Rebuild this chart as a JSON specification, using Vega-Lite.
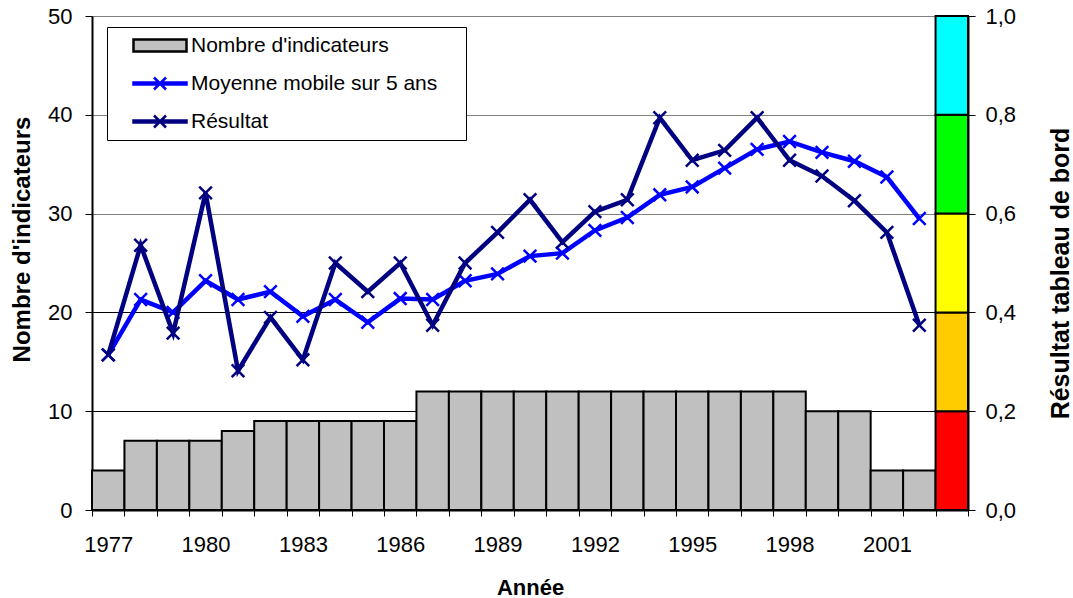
{
  "$schema": "https://vega.github.io/schema/vega-lite/v6.json",
  "width": 876,
  "height": 494,
  "autosize": "none",
  "padding": {"left": 92, "top": 16, "right": 105, "bottom": 88},
  "background": "white",
  "config": {
    "view": {"stroke": null},
    "font": "Liberation Sans",
    "axis": {
      "labelFont": "Liberation Sans",
      "titleFont": "Liberation Sans",
      "labelColor": "black",
      "titleColor": "black",
      "labelFontSize": 22,
      "domainColor": "black",
      "tickColor": "black"
    },
    "legend": {
      "orient": "none",
      "legendX": 15,
      "legendY": 11,
      "titleOrient": "right",
      "titleFontSize": 21,
      "titleOpacity": 0,
      "titlePadding": 16,
      "direction": "vertical",
      "padding": 7,
      "rowPadding": 15,
      "strokeColor": "black",
      "fillColor": "white",
      "labelFont": "Liberation Sans",
      "labelFontSize": 21,
      "labelColor": "black",
      "labelLimit": 500,
      "symbolSize": 400,
      "symbolStrokeWidth": 2.5,
      "symbolOpacity": 1,
      "symbolOffset": 34.5,
      "labelOffset": 19.5
    }
  },
  "datasets": {
    "barres": [
      {"annee": "1977", "nombre": 4},
      {"annee": "1978", "nombre": 7},
      {"annee": "1979", "nombre": 7},
      {"annee": "1980", "nombre": 7},
      {"annee": "1981", "nombre": 8},
      {"annee": "1982", "nombre": 9},
      {"annee": "1983", "nombre": 9},
      {"annee": "1984", "nombre": 9},
      {"annee": "1985", "nombre": 9},
      {"annee": "1986", "nombre": 9},
      {"annee": "1987", "nombre": 12},
      {"annee": "1988", "nombre": 12},
      {"annee": "1989", "nombre": 12},
      {"annee": "1990", "nombre": 12},
      {"annee": "1991", "nombre": 12},
      {"annee": "1992", "nombre": 12},
      {"annee": "1993", "nombre": 12},
      {"annee": "1994", "nombre": 12},
      {"annee": "1995", "nombre": 12},
      {"annee": "1996", "nombre": 12},
      {"annee": "1997", "nombre": 12},
      {"annee": "1998", "nombre": 12},
      {"annee": "1999", "nombre": 10},
      {"annee": "2000", "nombre": 10},
      {"annee": "2001", "nombre": 4},
      {"annee": "2002", "nombre": 4}
    ],
    "resultats": [
      {"annee": "1977", "moyenne": 0.314, "resultat": 0.314},
      {"annee": "1978", "moyenne": 0.426, "resultat": 0.536},
      {"annee": "1979", "moyenne": 0.400, "resultat": 0.358},
      {"annee": "1980", "moyenne": 0.464, "resultat": 0.642},
      {"annee": "1981", "moyenne": 0.426, "resultat": 0.282},
      {"annee": "1982", "moyenne": 0.442, "resultat": 0.390},
      {"annee": "1983", "moyenne": 0.392, "resultat": 0.304},
      {"annee": "1984", "moyenne": 0.426, "resultat": 0.500},
      {"annee": "1985", "moyenne": 0.380, "resultat": 0.442},
      {"annee": "1986", "moyenne": 0.428, "resultat": 0.500},
      {"annee": "1987", "moyenne": 0.426, "resultat": 0.374},
      {"annee": "1988", "moyenne": 0.464, "resultat": 0.500},
      {"annee": "1989", "moyenne": 0.478, "resultat": 0.562},
      {"annee": "1990", "moyenne": 0.514, "resultat": 0.628},
      {"annee": "1991", "moyenne": 0.520, "resultat": 0.542},
      {"annee": "1992", "moyenne": 0.566, "resultat": 0.604},
      {"annee": "1993", "moyenne": 0.592, "resultat": 0.628},
      {"annee": "1994", "moyenne": 0.638, "resultat": 0.794},
      {"annee": "1995", "moyenne": 0.654, "resultat": 0.708},
      {"annee": "1996", "moyenne": 0.692, "resultat": 0.728},
      {"annee": "1997", "moyenne": 0.730, "resultat": 0.794},
      {"annee": "1998", "moyenne": 0.746, "resultat": 0.708},
      {"annee": "1999", "moyenne": 0.724, "resultat": 0.676},
      {"annee": "2000", "moyenne": 0.706, "resultat": 0.626},
      {"annee": "2001", "moyenne": 0.674, "resultat": 0.562},
      {"annee": "2002", "moyenne": 0.590, "resultat": 0.374}
    ],
    "zones": [
      {"annee": "TB", "zone": "rouge", "bas": 0.0, "haut": 0.2},
      {"annee": "TB", "zone": "orange", "bas": 0.2, "haut": 0.4},
      {"annee": "TB", "zone": "jaune", "bas": 0.4, "haut": 0.6},
      {"annee": "TB", "zone": "vert", "bas": 0.6, "haut": 0.8},
      {"annee": "TB", "zone": "cyan", "bas": 0.8, "haut": 1.0}
    ]
  },
  "encoding": {
    "x": {
      "field": "annee",
      "type": "ordinal",
      "scale": {
        "domain": ["1977","1978","1979","1980","1981","1982","1983","1984","1985","1986","1987","1988","1989","1990","1991","1992","1993","1994","1995","1996","1997","1998","1999","2000","2001","2002","TB"],
        "paddingInner": 0,
        "paddingOuter": 0
      },
      "axis": {
        "title": "Année",
        "titleFontSize": 22,
        "titleFontWeight": "bold",
        "titleBaseline": "alphabetic",
        "titleY": 84,
        "labelAngle": 0,
        "labelOverlap": false,
        "tickBand": "extent",
        "tickSize": 6,
        "tickWidth": 1,
        "domainWidth": 2,
        "labelPadding": 18,
        "grid": false,
        "labelExpr": "datum.value == 'TB' ? '' : ((toNumber(datum.value) - 1977) % 3 == 0 ? datum.value : '')"
      }
    }
  },
  "layer": [
    {
      "data": {"name": "barres"},
      "mark": {"type": "bar", "fill": "#C0C0C0", "stroke": "black", "strokeWidth": 2},
      "encoding": {
        "y": {
          "field": "nombre",
          "type": "quantitative",
          "scale": {"domain": [0, 50], "nice": false},
          "axis": {
            "orient": "left",
            "values": [0, 10, 20, 30, 40, 50],
            "title": "Nombre d'indicateurs",
            "titleFontSize": 24,
            "titleFontWeight": "bold",
            "titleAngle": -90,
            "titleX": -70,
            "titleY": 223,
            "titleBaseline": "middle",
            "titleAlign": "center",
            "grid": true,
            "gridColor": {"condition": {"test": "datum.value <= 20", "value": "black"}, "value": "#808080"},
            "gridWidth": 1,
            "tickSize": 7,
            "labelPadding": 13,
            "domainWidth": 2
          }
        }
      }
    },
    {
      "data": {"name": "zones"},
      "mark": {"type": "bar", "stroke": "black", "strokeWidth": 2},
      "encoding": {
        "y": {
          "field": "bas",
          "type": "quantitative",
          "scale": {"domain": [0, 1], "nice": false},
          "axis": {
            "orient": "right",
            "values": [0, 0.2, 0.4, 0.6, 0.8, 1],
            "labelExpr": "replace(format(datum.value, '.1f'), '.', ',')",
            "title": "Résultat tableau de bord",
            "titleFontSize": 25,
            "titleFontWeight": "bold",
            "titleAngle": -90,
            "titleX": 92,
            "titleY": 257,
            "titleBaseline": "middle",
            "titleAlign": "center",
            "grid": false,
            "tickSize": 7,
            "labelPadding": 10,
            "domainWidth": 2
          }
        },
        "y2": {"field": "haut"},
        "color": {
          "field": "zone",
          "type": "nominal",
          "scale": {
            "domain": ["rouge", "orange", "jaune", "vert", "cyan"],
            "range": ["#FF0000", "#FFCC00", "#FFFF00", "#00FF00", "#00FFFF"]
          },
          "legend": null
        }
      }
    },
    {
      "data": {"name": "resultats"},
      "mark": {"type": "line", "strokeWidth": 4.5, "color": "#0000FF"},
      "encoding": {
        "y": {"field": "moyenne", "type": "quantitative", "scale": {"domain": [0, 1], "nice": false}, "axis": null}
      }
    },
    {
      "data": {"name": "resultats"},
      "mark": {"type": "point", "shape": "M-1,-1L1,1M-1,1L1,-1", "filled": false, "size": 160, "strokeWidth": 2.5, "opacity": 1, "color": "#0000FF"},
      "encoding": {
        "y": {"field": "moyenne", "type": "quantitative", "scale": {"domain": [0, 1], "nice": false}, "axis": null}
      }
    },
    {
      "data": {"name": "resultats"},
      "mark": {"type": "line", "strokeWidth": 4.5, "color": "#000080"},
      "encoding": {
        "y": {"field": "resultat", "type": "quantitative", "scale": {"domain": [0, 1], "nice": false}, "axis": null}
      }
    },
    {
      "data": {"name": "resultats"},
      "mark": {"type": "point", "shape": "M-1,-1L1,1M-1,1L1,-1", "filled": false, "size": 160, "strokeWidth": 2.5, "opacity": 1, "color": "#000080"},
      "encoding": {
        "y": {"field": "resultat", "type": "quantitative", "scale": {"domain": [0, 1], "nice": false}, "axis": null}
      }
    },
    {
      "data": {"name": "resultats"},
      "mark": {"type": "point", "filled": true, "opacity": 0, "size": 400},
      "encoding": {
        "y": {"field": "resultat", "type": "quantitative", "scale": {"domain": [0, 1], "nice": false}, "axis": null},
        "fill": {
          "datum": "Résultat",
          "type": "nominal",
          "scale": {
            "domain": ["Nombre d'indicateurs", "Moyenne mobile sur 5 ans", "Résultat"],
            "range": ["#C0C0C0", "#0000FF", "#000080"]
          },
          "legend": {"title": "."}
        },
        "stroke": {
          "datum": "Résultat",
          "type": "nominal",
          "scale": {
            "domain": ["Nombre d'indicateurs", "Moyenne mobile sur 5 ans", "Résultat"],
            "range": ["black", "#0000FF", "#000080"]
          },
          "legend": {"title": "."}
        },
        "shape": {
          "datum": "Résultat",
          "type": "nominal",
          "scale": {
            "domain": ["Nombre d'indicateurs", "Moyenne mobile sur 5 ans", "Résultat"],
            "range": [
              "M-2.65,-0.6H2.65V0.6H-2.65Z",
              "M-2.65,-0.1H2.65V0.1H-2.65ZM-0.6,-0.6L0.6,0.6M-0.6,0.6L0.6,-0.6",
              "M-2.65,-0.1H2.65V0.1H-2.65ZM-0.6,-0.6L0.6,0.6M-0.6,0.6L0.6,-0.6"
            ]
          },
          "legend": {"title": "."}
        }
      }
    }
  ],
  "resolve": {"scale": {"y": "independent"}}
}
